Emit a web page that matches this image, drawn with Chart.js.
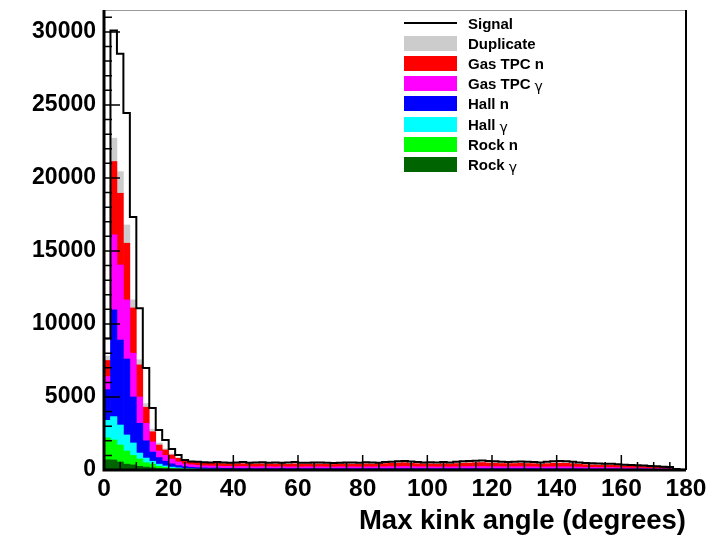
<!DOCTYPE html>
<html>
<head>
<meta charset="utf-8">
<script src="https://cdn.jsdelivr.net/npm/chart.js@4.4.1/dist/chart.umd.min.js"></script>
<style>
  html, body { margin: 0; padding: 0; background: #fff; }
  #wrap { position: relative; width: 722px; height: 540px; }
  #legend {
    position: absolute; left: 404px; top: 13px;
    font: bold 15px "Liberation Sans", Arial, sans-serif; color: #000;
  }
  .row { height: 20.2px; display: flex; align-items: center; }
  .sw { width: 53px; height: 15px; margin-right: 11px; }
  .ln { width: 53px; height: 2px; margin-right: 11px; background: #000; }
  .g { font: normal 14px "DejaVu Sans", sans-serif; position: relative; top: 2px; margin-left: 4px; }
</style>
</head>
<body>
<div id="wrap">
  <canvas id="chart" width="722" height="540"></canvas>
  <div id="legend"></div>
</div>
<script>
const BIN_WIDTH = 2; // degrees
const N_BINS = 90;

// stacked components, one value per 2-degree bin (0-2, 2-4, ... 178-180)
const rockGamma = [
  700, 685, 550, 400, 350, 250, 200, 150, 100, 70, 50, 40, 30, 20,
  15, 15, 10, 10, 10, 10,
  5, 5, 5, 5, 5, 5, 5, 5, 5, 5,
  5, 5, 5, 5, 5, 5, 5, 5, 5, 5,
  5, 5, 5, 5, 5, 5, 5, 5, 5, 5,
  5, 5, 5, 5, 5, 5, 5, 5, 5, 5,
  5, 5, 5, 5, 5, 5, 5, 5, 5, 5,
  5, 5, 5, 5, 5, 5, 5, 5, 5, 5,
  5, 5, 5, 5, 5, 5, 5, 5, 0, 0
];
const rockN = [
  1500, 1370, 1160, 900, 650, 500, 300, 250, 150, 110, 70, 50, 40, 40,
  30, 30, 25, 25, 20, 20,
  15, 15, 15, 15, 15, 15, 15, 15, 15, 15,
  15, 15, 15, 15, 15, 15, 15, 15, 15, 15,
  15, 15, 15, 15, 15, 15, 15, 15, 15, 15,
  15, 15, 15, 15, 15, 15, 15, 15, 15, 15,
  15, 15, 15, 15, 15, 15, 15, 15, 15, 15,
  15, 15, 15, 15, 15, 15, 15, 15, 15, 15,
  15, 15, 15, 15, 15, 15, 20, 30, 40, 30
];
const hallGamma = [
  1200, 1600, 1370, 1100, 850, 410, 320, 200, 150, 100, 80, 60, 40, 30,
  25, 20, 20, 20, 15, 15,
  10, 10, 10, 10, 10, 10, 10, 10, 10, 10,
  10, 10, 10, 10, 10, 10, 10, 10, 10, 10,
  10, 10, 10, 10, 10, 10, 10, 10, 10, 10,
  10, 10, 10, 10, 10, 10, 10, 10, 10, 10,
  10, 10, 10, 10, 10, 10, 10, 10, 10, 10,
  10, 10, 10, 10, 10, 10, 10, 10, 10, 10,
  10, 10, 10, 10, 5, 5, 5, 5, 0, 0
];
const hallN = [
  2100, 7310, 5820, 5200, 3150, 2040, 1180, 630, 450, 320, 220, 150, 120, 100,
  90, 80, 80, 80, 70, 70,
  70, 70, 70, 60, 70, 70, 60, 70, 60, 60,
  60, 60, 60, 60, 60, 60, 60, 60, 60, 60,
  60, 60, 60, 60, 60, 60, 60, 60, 60, 60,
  60, 60, 60, 60, 60, 60, 60, 60, 60, 60,
  60, 60, 60, 60, 60, 60, 60, 50, 50, 50,
  50, 50, 50, 50, 40, 40, 40, 40, 40, 40,
  30, 30, 30, 30, 20, 20, 20, 10, 10, 0
];
const gasGamma = [
  900, 5140, 5140, 4050, 3000, 1800, 1200, 690, 450, 400, 330, 250, 190, 170,
  150, 140, 140, 130, 130, 130,
  130, 140, 130, 120, 130, 130, 120, 130, 120, 130,
  120, 130, 120, 130, 120, 120, 130, 120, 130, 120,
  130, 120, 130, 130, 140, 140, 150, 140, 130, 130,
  130, 120, 130, 120, 130, 140, 140, 150, 150, 140,
  140, 130, 130, 130, 140, 130, 130, 120, 130, 140,
  140, 140, 130, 120, 110, 110, 100, 100, 100, 90,
  90, 80, 80, 70, 70, 60, 50, 40, 10, 0
];
const gasN = [
  1100, 5020, 4910, 3880, 3100, 2200, 1100, 700, 410, 370, 280, 250, 220, 210,
  220, 200, 190, 200, 180, 190,
  200, 190, 180, 200, 190, 180, 200, 190, 180, 200,
  190, 180, 200, 190, 180, 170, 190, 200, 180, 190,
  200, 190, 210, 220, 230, 250, 260, 230, 210, 200,
  200, 190, 210, 200, 220, 240, 250, 260, 270, 250,
  240, 220, 210, 220, 230, 220, 210, 200, 220, 240,
  250, 240, 220, 200, 180, 170, 160, 160, 150, 150,
  130, 120, 120, 110, 100, 90, 80, 60, 20, 0
];
const duplicate = [
  300, 1600, 1480, 1250, 550, 350, 250, 180, 140, 80, 70, 50, 40, 30,
  25, 25, 20, 20, 20, 20,
  20, 20, 20, 20, 20, 20, 20, 20, 20, 20,
  20, 20, 20, 20, 20, 20, 20, 20, 20, 20,
  20, 20, 20, 20, 20, 20, 20, 20, 20, 20,
  20, 20, 20, 20, 20, 20, 20, 20, 20, 20,
  20, 20, 20, 20, 20, 20, 20, 20, 20, 20,
  20, 20, 20, 20, 20, 20, 20, 20, 20, 20,
  20, 20, 20, 20, 20, 20, 10, 10, 0, 0
];
// signal histogram, drawn as outline only
const signal = [
  9000, 30100, 28500, 24450, 17330, 11080, 6990, 4250, 2740, 2055, 1440, 1030, 690, 580,
  560, 530, 520, 540, 510, 500,
  520, 540, 500, 510, 530, 500, 520, 490, 510, 540,
  500, 490, 510, 520, 500, 480, 500, 520, 510, 500,
  530, 520, 500, 540, 560, 600, 620, 580, 540, 520,
  530, 510, 540, 520, 560, 600, 620, 640, 650, 620,
  600, 560, 540, 560, 580, 560, 540, 520, 560, 600,
  620, 600, 560, 520, 480, 460, 440, 420, 420, 400,
  360, 340, 330, 300, 280, 250, 230, 200, 60, 10
];

const stackLabels = ["Rock γ", "Rock n", "Hall γ", "Hall n", "Gas TPC γ", "Gas TPC n", "Duplicate"];
const stackColors = ["#006400", "#00ff00", "#00ffff", "#0000ff", "#ff00ff", "#ff0000", "#cccccc"];
const stackSeries = [rockGamma, rockN, hallGamma, hallN, gasGamma, gasN, duplicate];

const yTickValues = [0, 5000, 10000, 15000, 20000, 25000, 30000];
const xTickValues = [0, 20, 40, 60, 80, 100, 120, 140, 160, 180];

const Y_MAX = 31500;
const FONT = '"Liberation Sans", Arial, Helvetica, sans-serif';

function binCenters(values) {
  return values.map((v, i) => ({ x: i * BIN_WIDTH + BIN_WIDTH / 2, y: v }));
}

// left bin edges, each value held until the next edge
function stepOutline(values) {
  const pts = [{ x: 0, y: 0 }];
  values.forEach((v, i) => pts.push({ x: i * BIN_WIDTH, y: v }));
  pts.push({ x: N_BINS * BIN_WIDTH, y: 0 });
  return pts;
}

// ROOT style ticks on the inside of the frame
const frameTicks = {
  id: "frameTicks",
  afterDatasetsDraw(chart) {
    const { ctx, chartArea: a, scales } = chart;
    const x = scales.x;
    const y = scales.y;
    ctx.save();
    ctx.strokeStyle = "#000";
    ctx.lineWidth = 1.5;
    ctx.beginPath();
    for (let v = 0; v <= Y_MAX; v += 1000) {
      const py = y.getPixelForValue(v);
      const len = v % 5000 === 0 ? 16 : 8;
      ctx.moveTo(a.left, py);
      ctx.lineTo(a.left + len, py);
    }
    for (let v = 0; v <= 180; v += 5) {
      const px = x.getPixelForValue(v);
      const len = v % 20 === 0 ? 15 : 8;
      ctx.moveTo(px, a.bottom);
      ctx.lineTo(px, a.bottom - len);
    }
    ctx.stroke();

    // frame
    ctx.strokeStyle = "#999";
    ctx.lineWidth = 1;
    ctx.beginPath();
    ctx.moveTo(a.left, a.top + 0.5);
    ctx.lineTo(a.right, a.top + 0.5);
    ctx.stroke();
    ctx.strokeStyle = "#000";
    ctx.lineWidth = 2;
    ctx.beginPath();
    ctx.moveTo(a.right, a.top);
    ctx.lineTo(a.right, a.bottom);
    ctx.stroke();
    ctx.lineWidth = 3;
    ctx.beginPath();
    ctx.moveTo(a.left, a.top);
    ctx.lineTo(a.left, a.bottom);
    ctx.lineTo(a.right, a.bottom);
    ctx.stroke();
    ctx.restore();
  },
};

const datasets = [
  {
    type: "line",
    label: "Signal",
    data: stepOutline(signal),
    stepped: "before",
    borderColor: "#000",
    borderWidth: 2,
    pointRadius: 0,
    fill: false,
    stack: "signal",
  },
];
stackSeries.forEach((series, i) => {
  datasets.push({
    type: "bar",
    label: stackLabels[i],
    data: binCenters(series),
    backgroundColor: stackColors[i],
    borderWidth: 0,
    barPercentage: 1,
    categoryPercentage: 1,
    stack: "bkg",
  });
});

new Chart(document.getElementById("chart"), {
  data: { datasets },
  options: {
    responsive: false,
    animation: false,
    devicePixelRatio: 1,
    layout: { padding: { left: 0, right: 36, top: 10, bottom: 0 } },
    plugins: { legend: { display: false }, tooltip: { enabled: false } },
    scales: {
      x: {
        type: "linear",
        min: 0,
        max: 180,
        stacked: true,
        offset: false,
        grid: { display: false, drawTicks: false },
        border: { display: false },
        afterBuildTicks(scale) {
          scale.ticks = xTickValues.map((v) => ({ value: v }));
        },
        ticks: {
          padding: 5,
          maxRotation: 0,
          autoSkip: false,
          color: "#000",
          font: { family: FONT, size: 24.5, weight: "bold" },
          callback: (v) => String(v),
        },
        title: {
          display: true,
          text: "Max kink angle (degrees)",
          align: "end",
          color: "#000",
          padding: { top: 0, bottom: 2 },
          font: { family: FONT, size: 27.5, weight: "bold" },
        },
        afterFit(scale) {
          scale.height = 70;
          scale.paddingLeft = 0;
          scale.paddingRight = 0;
        },
      },
      y: {
        stacked: true,
        min: 0,
        max: Y_MAX,
        grid: { display: false, drawTicks: false },
        border: { display: false },
        afterBuildTicks(scale) {
          scale.ticks = yTickValues.map((v) => ({ value: v }));
        },
        ticks: {
          padding: 8,
          autoSkip: false,
          color: "#000",
          font: { family: FONT, size: 23, weight: "bold" },
          callback: (v) => String(v),
        },
        afterFit(scale) {
          scale.width = 104;
          scale.paddingTop = 0;
          scale.paddingBottom = 0;
        },
      },
    },
  },
  plugins: [frameTicks],
});

// legend box, same order as the reference
const legendElem = document.getElementById("legend");
const legendRows = [{ label: "Signal", color: null }];
for (let i = stackLabels.length - 1; i >= 0; i--) {
  legendRows.push({ label: stackLabels[i], color: stackColors[i] });
}
legendRows.forEach((r) => {
  const row = document.createElement("div");
  row.className = "row";
  const mark = document.createElement("div");
  if (r.color) {
    mark.className = "sw";
    mark.style.background = r.color;
  } else {
    mark.className = "ln";
  }
  row.appendChild(mark);
  const text = document.createElement("span");
  if (r.label.endsWith("γ")) {
    text.textContent = r.label.slice(0, -1).trim();
    const g = document.createElement("span");
    g.className = "g";
    g.textContent = "γ";
    text.appendChild(g);
  } else {
    text.textContent = r.label;
  }
  row.appendChild(text);
  legendElem.appendChild(row);
});
</script>
</body>
</html>
